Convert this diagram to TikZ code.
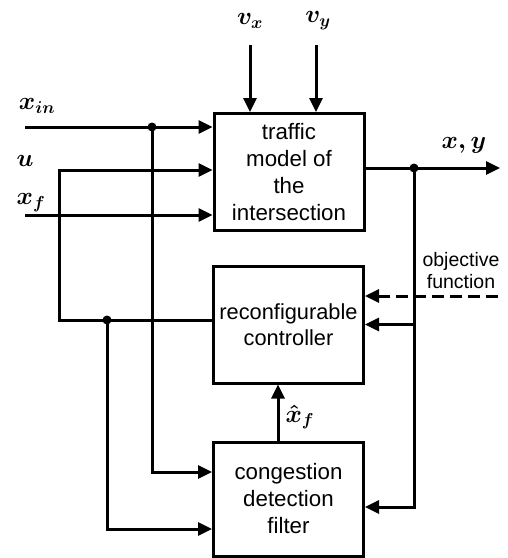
\documentclass[tikz,border=0pt]{standalone}
\usepackage{fontspec}
\setmainfont{Liberation Sans}
\usetikzlibrary{arrows.meta,positioning}

\begin{document}
\begin{tikzpicture}[x=1pt, y=-1pt, line width=3pt,
    block/.style={draw, minimum width=150pt, minimum height=117pt, align=center,
        inner sep=2pt, font=\fontsize{22.3}{27}\selectfont},
    sig/.style={-{Triangle[length=14pt,width=13pt]}},
    lbl/.style={font=\fontsize{25}{28}\selectfont\boldmath},
    junction/.style={circle, fill, inner sep=0pt, minimum size=9pt}]
    \useasboundingbox (0,0) rectangle (508,558);

    % Blocks
    \node[block] (model) at (289,172) {traffic\\model of\\the\\intersection};
    \node[block, font=\fontsize{21.8}{26}\selectfont] (ctrl) at (288.5,324.5) {reconfigurable\\controller};
    \node[block, minimum height=114pt] (filter) at (288.5,499) {congestion\\detection\\filter};

    % Free ends
    \coordinate (vx) at (250,45);
    \coordinate (vy) at (316,45);
    \coordinate (xin) at (25,127);
    \coordinate (uin) at (59,170);
    \coordinate (xf) at (25,215);
    \coordinate (out) at (500,168);
    \coordinate (obj) at (498,296);
    \coordinate (ucorner) at (59,320);

    % Junctions
    \node[junction] (jin) at (152,127) {};
    \node[junction] (ju) at (107,320) {};
    \node[junction] (jout) at (414,168) {};

    % Labels
    \node[lbl] (vxl) at (250,21) {$v_x$};
    \node[lbl] (vyl) at (318,21) {$v_y$};
    \node[lbl] (xinl) at (37,106) {$x_{in}$};
    \node[lbl] (ul) at (25,161) {$u$};
    \node[lbl] (xfl) at (31,203) {$x_f$};
    \node[lbl] (outl) at (464,145) {$x,y$};
    \node[lbl, anchor=west, inner sep=0pt] (xhatl) at (284,417) {$\hat{x}_f$};
    \node[font=\fontsize{19.5}{22}\selectfont, align=center] (objl) at (461,271) {objective\\function};

    % Inputs of the model
    \draw[sig] (vx) -- (vx |- model.north);
    \draw[sig] (vy) -- (vy |- model.north);
    \draw[sig] (xin) -- (xin -| model.west);
    \draw[sig] (xf) -- (xf -| model.west);
    \draw[sig] (ctrl.west |- ucorner) -- (ucorner) -- (uin) -- (uin -| model.west);

    % Inputs of the filter
    \draw[sig] (jin.center) |- ([yshift=27pt]filter.west);
    \draw[sig] (ju.center) |- ([yshift=-30pt]filter.west);

    % Output and feedback
    \draw[sig] (model.east |- out) -- (out);
    \draw[sig] (jout.center) |- ([yshift=-8pt]filter.east);
    \draw[sig] (jout |- ctrl.east) -- (ctrl.east);
    \draw[sig, dash pattern=on 12pt off 6pt] (obj) -- (obj -| ctrl.east);

    % Estimate
    \draw[sig] ([xshift=-10.5pt]filter.north) -- ([xshift=-10.5pt]ctrl.south);
\end{tikzpicture}
\end{document}
